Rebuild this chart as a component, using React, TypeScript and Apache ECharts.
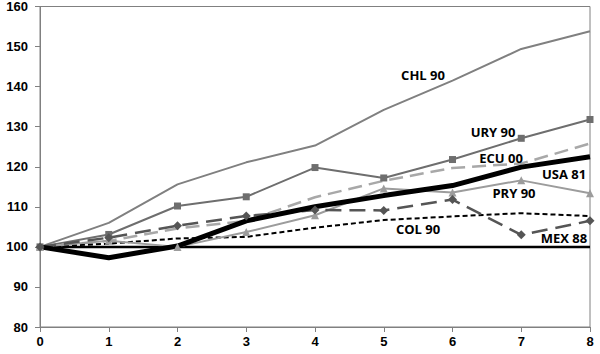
import React, { useEffect, useRef } from "react";
import * as echarts from "echarts";

const xValues = [0, 1, 2, 3, 4, 5, 6, 7, 8];
const chl = [100, 106, 115.6, 121.1, 125.3, 134.2, 141.5, 149.4, 153.8];
const ury = [100, 103.1, 110.2, 112.5, 119.8, 117.2, 121.8, 127.1, 131.8];
const ecu = [100, 101.5, 104.6, 106.5, 112.4, 116.5, 119.7, 120.8, 125.8];
const usa = [100, 97.3, 100.2, 106.5, 110, 112.8, 115.3, 119.9, 122.5];
const pry = [100, 101.5, 100, 103.7, 107.9, 114.6, 113.6, 116.6, 113.4];
const col = [100, 100.8, 102.1, 102.5, 104.8, 106.7, 107.6, 108.4, 107.7];
const mex = [100, 102.3, 105.3, 107.7, 109.2, 109.1, 111.8, 103, 106.5];
const base = [100, 100, 100, 100, 100, 100, 100, 100, 100];

const labels = ["CHL 90", "URY 90", "ECU 00", "USA 81", "PRY 90", "COL 90", "MEX 88"];

const pts = (arr: number[]) => arr.map((v, i) => [xValues[i], v]);

export default function App() {
  const ref = useRef<HTMLDivElement>(null);
  useEffect(() => {
    document.body.style.margin = "0";
    if (!ref.current) return;
    const chart = echarts.init(ref.current, null, { renderer: "svg" });
    const labelPos = [
      [423, 75],
      [493, 132],
      [501, 158],
      [564, 174],
      [514, 193],
      [418, 229],
      [564, 238],
    ];
    chart.setOption({
      animation: false,
      backgroundColor: "#fff",
      grid: {
        left: 40,
        right: 10,
        top: 6,
        bottom: 27,
        show: true,
        borderColor: "#808080",
        borderWidth: 1,
      },
      xAxis: {
        type: "value",
        min: 0,
        max: 8,
        interval: 1,
        axisLine: { show: true, lineStyle: { color: "#808080" } },
        axisTick: { show: true, length: 5, lineStyle: { color: "#808080" } },
        splitLine: { show: false },
        axisLabel: {
          color: "#000",
          fontWeight: "bold",
          fontSize: 13,
          fontFamily: "Liberation Sans",
          margin: 8,
        },
      },
      yAxis: {
        type: "value",
        min: 80,
        max: 160,
        interval: 10,
        axisLine: { show: true, lineStyle: { color: "#808080" } },
        axisTick: { show: true, length: 5, lineStyle: { color: "#808080" } },
        splitLine: { show: false },
        axisLabel: {
          color: "#000",
          fontWeight: "bold",
          fontSize: 13,
          fontFamily: "Liberation Sans",
          margin: 12,
        },
      },
      series: [
        {
          name: "base",
          type: "line",
          data: pts(base),
          showSymbol: false,
          lineStyle: { color: "#000", width: 2.5 },
        },
        {
          name: "CHL 90",
          type: "line",
          data: pts(chl),
          showSymbol: false,
          lineStyle: { color: "#808080", width: 2 },
        },
        {
          name: "URY 90",
          type: "line",
          data: pts(ury),
          symbol: "rect",
          symbolSize: 7,
          itemStyle: { color: "#6e6e6e" },
          lineStyle: { color: "#6e6e6e", width: 2 },
        },
        {
          name: "ECU 00",
          type: "line",
          data: pts(ecu),
          showSymbol: false,
          lineStyle: { color: "#a8a8a8", width: 2.5, type: [14, 7] },
        },
        {
          name: "COL 90",
          type: "line",
          data: pts(col),
          showSymbol: false,
          lineStyle: { color: "#000", width: 2, type: [5, 3] },
        },
        {
          name: "PRY 90",
          type: "line",
          data: pts(pry),
          symbol: "triangle",
          symbolSize: 8,
          itemStyle: { color: "#9c9c9c" },
          lineStyle: { color: "#9c9c9c", width: 2 },
        },
        {
          name: "MEX 88",
          type: "line",
          data: pts(mex),
          symbol: "diamond",
          symbolSize: 9,
          itemStyle: { color: "#555" },
          lineStyle: { color: "#555", width: 2.5, type: [16, 8] },
        },
        {
          name: "USA 81",
          type: "line",
          data: pts(usa),
          showSymbol: false,
          lineStyle: { color: "#000", width: 5 },
        },
      ],
      graphic: labels.map((t, i) => ({
        type: "text",
        x: labelPos[i][0],
        y: labelPos[i][1],
        z: 100,
        style: {
          text: t,
          fill: "#000",
          font: "bold 13px 'Open Sans'",
          align: "center",
          verticalAlign: "middle",
        },
      })),
    });
    return () => chart.dispose();
  }, []);
  return <div ref={ref} style={{ width: 600, height: 354 }} />;
}
